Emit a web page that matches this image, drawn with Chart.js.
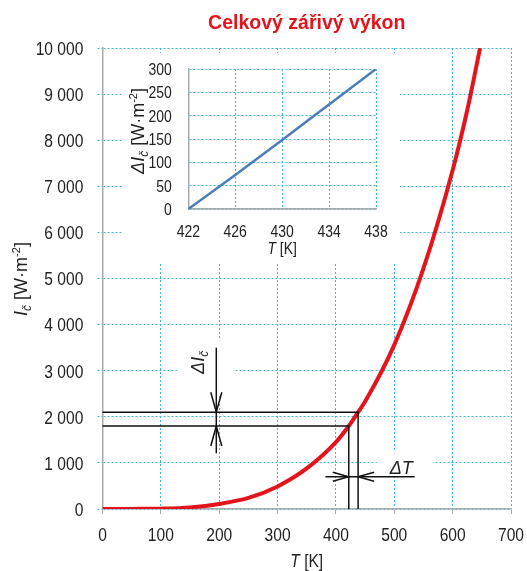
<!DOCTYPE html>
<html>
<head>
<meta charset="utf-8">
<script src="https://cdn.jsdelivr.net/npm/chart.js@4.4.1/dist/chart.umd.min.js"></script>
<style>
html, body { margin: 0; padding: 0; background: #fff; }
#wrap { position: relative; width: 527px; height: 571px; }
#main { position: absolute; left: 0; top: 0; }
#inset { position: absolute; left: 122px; top: 53px; background: #fff; }
</style>
</head>
<body>
<div id="wrap">
  <canvas id="main" width="527" height="571"></canvas>
  <canvas id="inset" width="278" height="209"></canvas>
</div>
<script>
// main curve
const temps = [0, 50, 100, 150, 200, 250, 300, 350, 400, 422, 438, 450, 500, 550, 600, 625, 647]
const power = [0, 2, 8, 35, 110, 240, 490, 880, 1450, 1800, 2100, 2330, 3560, 5220, 7350, 8650, 10000]
const tTicks = [0, 100, 200, 300, 400, 500, 600, 700]
const iTicks = [0, 1000, 2000, 3000, 4000, 5000, 6000, 7000, 8000, 9000, 10000]

// the two marked temperatures and their intensities
const markT = [422, 438]
const markI = [1800, 2100]

// inset: difference of intensity
const insetT = [422, 426, 430, 434, 438]
const insetDI = [0, 73, 148, 224, 300]
const insetTTicks = [422, 426, 430, 434, 438]
const insetITicks = [0, 50, 100, 150, 200, 250, 300]

const RED = '#e3141b'
const BLUE = '#4a7dba'
const CYAN = '#3fb8d4'
const GRAY = '#a9a9a9'
const TXT = '#222'
const SANS = '"Liberation Sans", Arial, sans-serif'
const SQ = 0.82   // squeeze for the narrow face used in the original

const fmt = v => String(v).replace(/\B(?=(\d{3})+(?!\d))/g, ' ')
const setTicks = arr => scale => { scale.ticks = arr.map(v => ({ value: v })) }

function richText(ctx, parts, cx, cy, rot, capH, sx) {
  ctx.save()
  ctx.translate(cx, cy)
  if (rot) ctx.rotate(rot)
  ctx.scale(sx, 1)
  ctx.textBaseline = 'alphabetic'
  ctx.textAlign = 'left'
  ctx.fillStyle = TXT
  let w = 0
  parts.forEach(p => { ctx.font = p.font; w += ctx.measureText(p.t).width })
  let xx = -w / 2
  parts.forEach(p => {
    ctx.font = p.font
    ctx.fillText(p.t, xx, capH / 2 + (p.dy || 0))
    xx += ctx.measureText(p.t).width
  })
  ctx.restore()
}

function label(ctx, text, x, y, align, size) {
  ctx.save()
  ctx.translate(x, y)
  ctx.scale(SQ, 1)
  ctx.font = `${size}px ${SANS}`
  ctx.fillStyle = TXT
  ctx.textAlign = align
  ctx.textBaseline = 'alphabetic'
  ctx.fillText(text, 0, 0)
  ctx.restore()
}

// tick labels drawn from the scales' own ticks
function tickLabels(size, xOff, yOff) {
  return {
    id: 'tickLabels',
    afterDraw(chart) {
      const { ctx, chartArea, scales: { x, y } } = chart
      const cap = size * 0.716
      x.ticks.forEach(t => label(ctx, fmt(t.value), x.getPixelForValue(t.value), chartArea.bottom + yOff, 'center', size))
      y.ticks.forEach(t => label(ctx, fmt(t.value), chartArea.left - xOff, y.getPixelForValue(t.value) + cap / 2, 'right', size))
    }
  }
}

function chevron(ctx, tx, ty, dx, dy, len, half) {
  ctx.beginPath()
  ctx.moveTo(tx - dx * len - dy * half, ty - dy * len - dx * half)
  ctx.lineTo(tx, ty)
  ctx.lineTo(tx - dx * len + dy * half, ty - dy * len + dx * half)
  ctx.stroke()
}

const marks = {
  id: 'marks',
  beforeDatasetsDraw(chart) {
    const { ctx, scales: { x, y } } = chart
    ctx.save()
    ctx.fillStyle = '#fff'
    // white behind the two labels
    ctx.fillRect(x.getPixelForValue(128), y.getPixelForValue(3660), x.getPixelForValue(224) - x.getPixelForValue(128), y.getPixelForValue(2460) - y.getPixelForValue(3660))
    ctx.fillRect(x.getPixelForValue(470), y.getPixelForValue(1230), x.getPixelForValue(566) - x.getPixelForValue(470), y.getPixelForValue(755) - y.getPixelForValue(1230))
    ctx.restore()
  },
  afterDatasetsDraw(chart) {
    const { ctx, chartArea, scales: { x, y } } = chart
    ctx.save()
    ctx.strokeStyle = '#111'
    ctx.lineWidth = 1.5
    markT.forEach((t, i) => {
      const px = x.getPixelForValue(t), py = y.getPixelForValue(markI[i])
      ctx.beginPath()
      ctx.moveTo(x.getPixelForValue(0), py)
      ctx.lineTo(px, py)
      ctx.lineTo(px, y.getPixelForValue(0))
      ctx.stroke()
    })
    // delta I arrow
    const ax = x.getPixelForValue(195)
    ctx.beginPath()
    ctx.moveTo(ax, y.getPixelForValue(3500))
    ctx.lineTo(ax, y.getPixelForValue(1210))
    ctx.stroke()
    chevron(ctx, ax, y.getPixelForValue(markI[1]), 0, 1, 20, 5.5)
    chevron(ctx, ax, y.getPixelForValue(markI[0]), 0, -1, 20, 5.5)
    // delta T arrow
    const ay = y.getPixelForValue(700)
    ctx.beginPath()
    ctx.moveTo(x.getPixelForValue(382), ay)
    ctx.lineTo(x.getPixelForValue(535), ay)
    ctx.stroke()
    chevron(ctx, x.getPixelForValue(markT[0]), ay, 1, 0, 16, 4.5)
    chevron(ctx, x.getPixelForValue(markT[1]), ay, -1, 0, 16, 4.5)
    ctx.restore()

    richText(ctx, [
      { t: 'ΔI', font: `italic 18px ${SANS}` },
      { t: 'č', font: `italic 12px ${SANS}`, dy: 4 }
    ], x.getPixelForValue(163), y.getPixelForValue(3180), -Math.PI / 2, 12.9, 1)
    richText(ctx, [
      { t: 'ΔT', font: `italic 18px ${SANS}` }
    ], x.getPixelForValue(512), y.getPixelForValue(900), 0, 12.9, 1)

    // axis titles
    const midX = (chartArea.left + chartArea.right) / 2
    richText(ctx, [
      { t: 'T', font: `italic 19px ${SANS}` },
      { t: ' [K]', font: `19px ${SANS}` }
    ], midX, chartArea.bottom + 51, 0, 13.6, SQ)
    richText(ctx, [
      { t: 'I', font: `italic 18px ${SANS}` },
      { t: 'č', font: `italic 12px ${SANS}`, dy: 4 },
      { t: ' [W·m', font: `18px ${SANS}` },
      { t: '-2', font: `11px ${SANS}`, dy: -7 },
      { t: ']', font: `18px ${SANS}` }
    ], 21, 279, -Math.PI / 2, 12.9, 1)

    ctx.save()
    ctx.fillStyle = RED
    ctx.font = `bold 19.5px ${SANS}`
    ctx.textAlign = 'center'
    ctx.textBaseline = 'middle'
    ctx.fillText('Celkový zářivý výkon', midX, 24)
    ctx.restore()
  }
}

new Chart(document.getElementById('main'), {
  type: 'line',
  data: {
    datasets: [{
      data: temps.map((t, i) => ({ x: t, y: power[i] })),
      borderColor: RED,
      borderWidth: 4,
      pointRadius: 0,
      fill: false,
      cubicInterpolationMode: 'monotone'
    }]
  },
  options: {
    responsive: false,
    animation: false,
    events: [],
    layout: { padding: { top: 48, right: 16, left: 0, bottom: 0 } },
    plugins: { legend: { display: false }, tooltip: { enabled: false } },
    scales: {
      x: {
        type: 'linear', min: 0, max: 700,
        afterBuildTicks: setTicks(tTicks),
        afterFit: s => { s.height = 62 },
        ticks: { display: false },
        grid: { color: CYAN, tickColor: GRAY, tickLength: 5, lineWidth: 1 },
        border: { color: GRAY, width: 1.5, dash: [2, 2] }
      },
      y: {
        type: 'linear', min: 0, max: 10000,
        afterBuildTicks: setTicks(iTicks),
        afterFit: s => { s.width = 102.5 },
        ticks: { display: false },
        grid: { color: CYAN, tickColor: CYAN, tickLength: 5, tickBorderDash: [2, 2], lineWidth: 1 },
        border: { color: GRAY, width: 1.5, dash: [2, 2] }
      }
    }
  },
  plugins: [marks, tickLabels(19, 19.2, 32)]
})

const insetTitles = {
  id: 'insetTitles',
  afterDraw(chart) {
    const { ctx, chartArea } = chart
    richText(ctx, [
      { t: 'T', font: `italic 17px ${SANS}` },
      { t: ' [K]', font: `17px ${SANS}` }
    ], (chartArea.left + chartArea.right) / 2, chartArea.bottom + 39, 0, 12.2, SQ)
    richText(ctx, [
      { t: 'ΔI', font: `italic 18px ${SANS}` },
      { t: 'č', font: `italic 12px ${SANS}`, dy: 4 },
      { t: ' [W·m', font: `18px ${SANS}` },
      { t: '-2', font: `11px ${SANS}`, dy: -7 },
      { t: ']', font: `18px ${SANS}` }
    ], 16, 78, -Math.PI / 2, 12.9, 1)
  }
}

new Chart(document.getElementById('inset'), {
  type: 'line',
  data: {
    datasets: [{
      data: insetT.map((t, i) => ({ x: t, y: insetDI[i] })),
      borderColor: BLUE,
      borderWidth: 2.5,
      pointRadius: 0,
      fill: false,
      cubicInterpolationMode: 'monotone'
    }]
  },
  options: {
    responsive: false,
    animation: false,
    events: [],
    layout: { padding: { top: 16, right: 24, left: 0, bottom: 0 } },
    plugins: { legend: { display: false }, tooltip: { enabled: false } },
    scales: {
      x: {
        type: 'linear', min: 422, max: 438,
        afterBuildTicks: setTicks(insetTTicks),
        afterFit: s => { s.height = 53 },
        ticks: { display: false },
        grid: { color: CYAN, drawTicks: false, lineWidth: 1 },
        border: { color: GRAY, width: 1.5, dash: [2, 2] }
      },
      y: {
        type: 'linear', min: 0, max: 300,
        afterBuildTicks: setTicks(insetITicks),
        afterFit: s => { s.width = 66.3 },
        ticks: { display: false },
        grid: { color: CYAN, drawTicks: false, lineWidth: 1 },
        border: { color: GRAY, width: 1.5, dash: [2, 2] }
      }
    }
  },
  plugins: [insetTitles, tickLabels(17, 16.6, 28)]
})
</script>
</body>
</html>
